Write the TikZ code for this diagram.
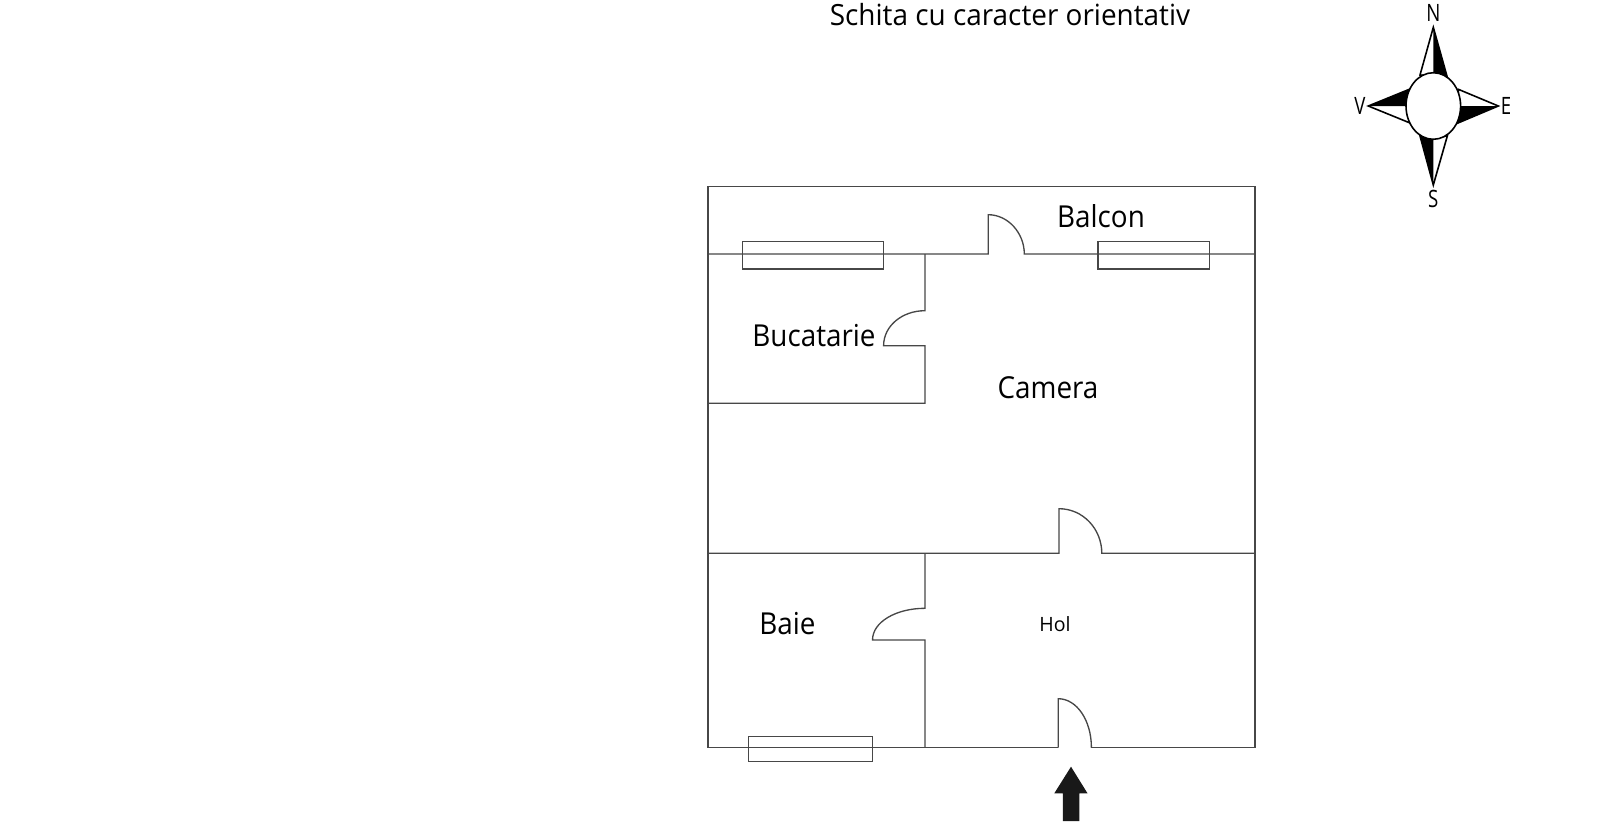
\documentclass[tikz,border=0pt]{standalone}
\usepackage{fontspec}
\setmainfont{Open Sans}
\tikzset{
  wall/.style={line width=0.38pt,draw=black!72},
  room/.style={inner sep=0pt,anchor=base,xscale=0.92,font=\fontsize{8.6pt}{10pt}\selectfont},
  wind/.style={inner sep=0pt,font=\fontsize{6.8pt}{8pt}\selectfont,xscale=0.78}
}
\begin{document}
\begin{tikzpicture}[x=0.01cm,y=-0.01cm]
      \useasboundingbox (0,0) rectangle (1600,821);
      \draw
        (1010,25) node[room,xscale=1.04,font=\fontsize{8.3pt}{10pt}\selectfont] (title){Schita cu caracter orientativ}
        (1101,227) node[room] (balcon){Balcon}
        (814,346) node[room] (bucatarie){Bucatarie}
        (1048,398.5) node[room] (camera){Camera}
        (787.5,634.5) node[room] (baie){Baie}
        (1055,631.5) node[room,xscale=1.08,font=\fontsize{5.6pt}{7pt}\selectfont] (hol){Hol};
      \begin{scope}[wall]
        % outer walls
        \draw (1058.2,747.7) -- (708,747.7) -- (708,186.7) -- (1255,186.7) -- (1255,747.7) -- (1091.4,747.7);
        \draw (708,254) -- (988.2,254) -- (988.2,214.7) .. controls (1008,214.7) and (1024.3,233) .. (1024.3,254) -- (1255,254);
        \draw (708,553.3) -- (1059,553.3) -- (1059,508.7) .. controls (1083,508.7) and (1101.8,529) .. (1101.8,553.3) -- (1255,553.3);
        \draw (1058.2,747.7) -- (1058.2,698.7) .. controls (1076.5,698.7) and (1091.4,720) .. (1091.4,747.7);
        % inner walls
        \draw (925,254) -- (925,310.7) .. controls (902,310.7) and (883.6,326) .. (883.6,345.7) -- (925,345.7) -- (925,403.3) -- (708,403.3);
        \draw (925,553.3) -- (925,608.3) .. controls (896,608.3) and (872.5,622) .. (872.5,640) -- (925,640) -- (925,747.7);
        % windows
        \draw (742.5,241.7) rectangle (883.6,269);
        \draw (1097.9,241.7) rectangle (1209.6,269);
        \draw (748.2,736.7) rectangle (872.5,761.3);
      \end{scope}
      % entrance
      \fill[black!90] (1071,766.7) -- (1087.5,793.3) -- (1079.3,793.3) -- (1079.3,821) -- (1062.9,821) -- (1062.9,793.3) -- (1054.3,793.3) -- cycle;
      % compass
      \begin{scope}[wall,line width=0.45pt,draw=black]
        \draw (1433.3,27.3) -- (1420,75) -- (1447.3,77.3) -- cycle;
        \draw (1433.3,185) -- (1420,136) -- (1447.3,136) -- cycle;
        \draw (1368.3,106) -- (1409.3,89.3) -- (1409.3,122.7) -- cycle;
        \draw (1498.3,106) -- (1458.3,89.3) -- (1457.3,123.3) -- cycle;
        \fill (1433.3,27.3) -- (1447.3,77.3) -- (1433.3,77.3) -- cycle;
        \fill (1433.3,185) -- (1420,136) -- (1433.3,136) -- cycle;
        \fill (1368.3,106) -- (1409.3,89.3) -- (1409.3,106) -- cycle;
        \fill (1498.3,106) -- (1457.3,123.3) -- (1457.3,106) -- cycle;
        \draw[fill=white] (1433.3,106) ellipse (27.3 and 33.3);
      \end{scope}
      \draw
        (1433.3,12.7) node[wind] (n){N}
        (1433.3,199) node[wind] (s){S}
        (1360,106) node[wind] (v){V}
        (1506,106) node[wind] (e){E};
    \end{tikzpicture}
\end{document}
